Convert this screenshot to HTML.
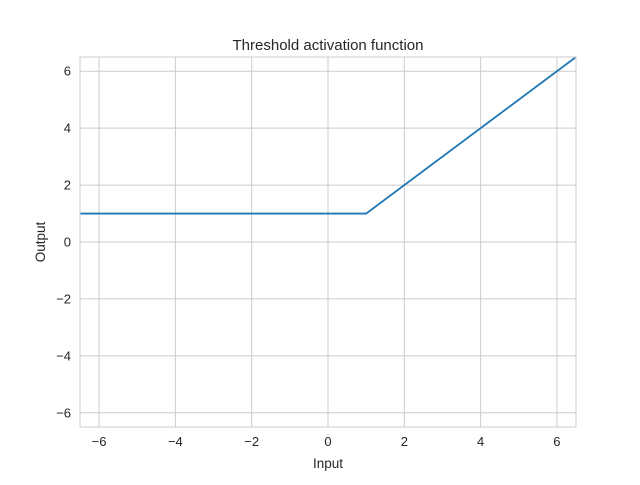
<!DOCTYPE html>
<html><head><meta charset="utf-8"><style>
body{margin:0;background:#fff;}
svg text{font-family:"Liberation Sans","DejaVu Sans",sans-serif;fill:#262626;}
</style></head><body>
<svg id="chart" width="640" height="480" xmlns="http://www.w3.org/2000/svg">
<rect width="640" height="480" fill="#fff"/>
<g id="grid"></g>
<g id="series"></g>
<rect x="80" y="57" width="496" height="370" fill="none" stroke="#cccccc" stroke-width="1"/>
<g id="ticks"></g>
<text x="328" y="50" text-anchor="middle" font-size="15">Threshold activation function</text>
<text x="328" y="468" text-anchor="middle" font-size="13.5">Input</text>
<text x="45" y="242" text-anchor="middle" font-size="13.5" transform="rotate(-90 45 242)">Output</text>
</svg>
<script>
const xTicks=[-6,-4,-2,0,2,4,6];
const yTicks=[-6,-4,-2,0,2,4,6];
const xData=[-6.5,1,6.5];
const yData=[1,1,6.5];
const X0=80,X1=576,Y0=57,Y1=427;
function sx(v){return X0+(v+6.5)/13*(X1-X0);}
function sy(v){return Y1-(v+6.5)/13*(Y1-Y0);}
const NS="http://www.w3.org/2000/svg";
const grid=document.getElementById('grid'),ticks=document.getElementById('ticks'),series=document.getElementById('series');
xTicks.forEach(t=>{
 const l=document.createElementNS(NS,'line');
 l.setAttribute('x1',sx(t));l.setAttribute('x2',sx(t));l.setAttribute('y1',Y0);l.setAttribute('y2',Y1);
 l.setAttribute('stroke','#cccccc');
 
 
 grid.appendChild(l);
 const tx=document.createElementNS(NS,'text');
 tx.setAttribute('x',sx(t));tx.setAttribute('y',Y1+19);tx.setAttribute('text-anchor','middle');tx.setAttribute('font-size','13');
 tx.textContent=t<0?'\u2212'+(-t):String(t);
 
 
 ticks.appendChild(tx);
});
yTicks.forEach(t=>{
 const l=document.createElementNS(NS,'line');
 l.setAttribute('y1',sy(t));l.setAttribute('y2',sy(t));l.setAttribute('x1',X0);l.setAttribute('x2',X1);
 l.setAttribute('stroke','#cccccc');
 
 
 grid.appendChild(l);
 const tx=document.createElementNS(NS,'text');
 tx.setAttribute('x',X0-9);tx.setAttribute('y',sy(t)+4.5);tx.setAttribute('text-anchor','end');tx.setAttribute('font-size','13');
 tx.textContent=t<0?'\u2212'+(-t):String(t);
 
 
 ticks.appendChild(tx);
});
const p=document.createElementNS(NS,'polyline');
p.setAttribute('points',xData.map((x,i)=>sx(x)+','+sy(yData[i])).join(' '));
p.setAttribute('fill','none');p.setAttribute('stroke','#1f77b4');p.setAttribute('stroke-width','1.8');


series.appendChild(p);
</script>
</body></html>
